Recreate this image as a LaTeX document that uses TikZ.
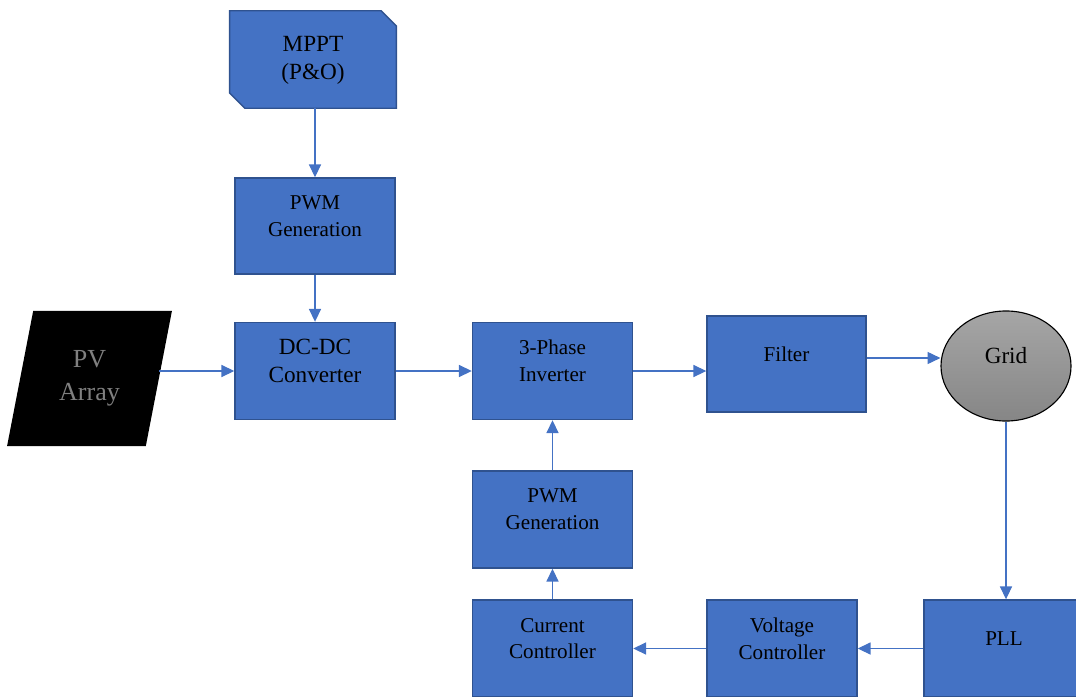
\documentclass[tikz,border=0pt]{standalone}
\usepackage{fontspec}
\setmainfont{Liberation Serif}
\usetikzlibrary{shapes.geometric,arrows.meta}
\definecolor{boxblue}{HTML}{4472C4}
\definecolor{bordblue}{HTML}{2F528F}
\tikzset{
    blk/.style={draw=bordblue, fill=boxblue, line width=1pt, minimum width=4cm, minimum height=2.425cm},
    txt/.style={align=center, font=\fontsize{15}{19}\selectfont, yshift=0.25cm},
    bigtxt/.style={txt, font=\fontsize{16.5}{20}\selectfont},
    arr/.style={draw=boxblue, line width=0.8pt, -{Triangle[length=0.32cm,width=0.3cm]}}
}

\begin{document}
\begin{tikzpicture}[x=0.025cm, y=-0.025cm]
    \clip (0,0) rectangle (1076,696);
    % snipped MPPT block, outline drawn round an empty node
    \node[minimum width=4.15cm, minimum height=2.425cm] (mppt) at (313,59.5) {};
    \filldraw[draw=bordblue, fill=boxblue, line width=1pt] (mppt.north west) -- ([xshift=-0.38cm]mppt.north east) -- ([yshift=-0.38cm]mppt.north east) -- (mppt.south east) -- ([xshift=0.38cm]mppt.south west) -- ([yshift=0.38cm]mppt.south west) -- cycle;
    \node[bigtxt, yshift=-0.27cm] (mpptlbl) at (mppt.center) {MPPT\\(P\&O)};
    \node[blk, minimum height=2.4cm, label={[txt]center:{PWM\\Generation}}] (pwmA) at (315,226) {};
    \node[blk, label={[bigtxt]center:{DC-DC\\Converter}}] (dcdc) at (315,371) {};
    \node[trapezium, trapezium left angle=76, trapezium right angle=104, trapezium stretches=true, fill=black, minimum width=4.125cm, minimum height=3.375cm, align=center, text=gray, font=\fontsize{18.5}{23.5}\selectfont] (pv) at (89.5,378.5) {PV\\Array};
    \node[blk, label={[txt]center:{3-Phase\\Inverter}}] (inv) at (552.5,371) {};
    \node[blk, minimum width=3.975cm, minimum height=2.4cm, label={[txt]center:{Filter}}] (filt) at (786.5,364) {};
    \node[ellipse, draw=black, line width=0.8pt, top color=gray!70, bottom color=gray!95!white, minimum width=3.25cm, minimum height=2.75cm, label={[bigtxt]center:{Grid}}] (grid) at (1006,366) {};
    \node[blk, label={[txt]center:{PWM\\Generation}}] (pwmB) at (552.5,519.5) {};
    \node[blk, label={[txt]center:{Current\\Controller}}] (cur) at (552.5,648.5) {};
    \node[blk, minimum width=3.75cm, label={[txt]center:{Voltage\\Controller}}] (volt) at (782,648.5) {};
    \node[blk, label={[txt]center:{PLL}}] (pll) at (1004,648.5) {};

    \draw[arr] (pwmA.north |- mppt.south) -- (pwmA.north);
    \draw[arr] (pwmA) -- (dcdc);
    \draw[arr] (pv.east |- dcdc.west) -- (dcdc.west);
    \draw[arr] (dcdc) -- (inv);
    \draw[arr] (inv.east) -- (inv.east -| filt.west);
    \draw[arr] ([yshift=0.15cm]filt.east) -- ([yshift=0.15cm]filt.east -| grid.west);
    \draw[arr] (grid.south) -- (grid.south |- pll.north);
    \draw[arr] (pll) -- (volt);
    \draw[arr] (volt) -- (cur);
    \draw[arr] (cur) -- (pwmB);
    \draw[arr] (pwmB) -- (inv);
\end{tikzpicture}
\end{document}
